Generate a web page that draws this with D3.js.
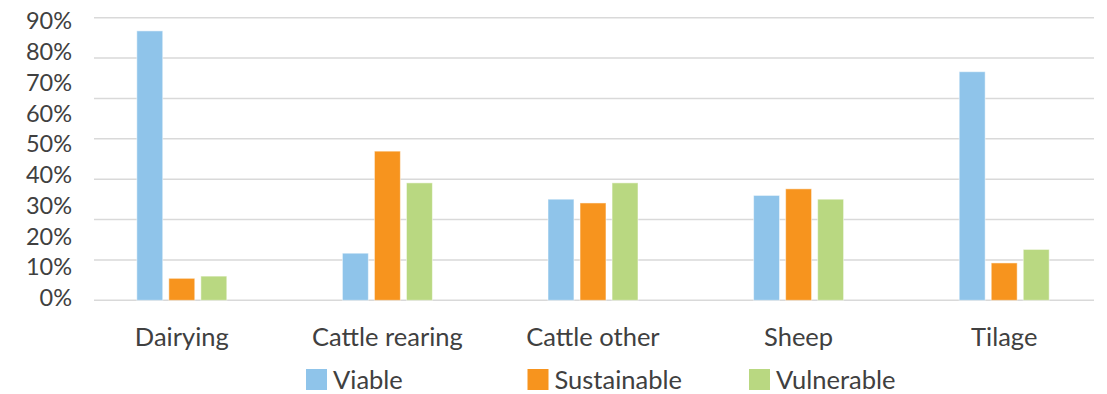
<!DOCTYPE html>
<html>
<head>
<meta charset="utf-8">
<script src="https://cdn.jsdelivr.net/npm/d3@7"></script>
<style>
  html, body { margin: 0; padding: 0; background: #fff; }
  svg { display: block; }
  text { font-family: Lato, "Open Sans", sans-serif; fill: #404040; }
</style>
</head>
<body>
<svg id="chart" width="1107" height="394"></svg>
<script>
// ---- data ----
const categories = ["Dairying", "Cattle rearing", "Cattle other", "Sheep", "Tilage"];
const seriesNames = ["Viable", "Sustainable", "Vulnerable"];
const viable      = [0.858, 0.150, 0.322, 0.334, 0.728];
const sustainable = [0.070, 0.475, 0.310, 0.355, 0.119];
const vulnerable  = [0.077, 0.374, 0.374, 0.322, 0.162];
const yTickLabels = ["0%", "10%", "20%", "30%", "40%", "50%", "60%", "70%", "80%", "90%"];
const gridCount = 8;

const colors = { Viable: "#8fc4ea", Sustainable: "#f7941e", Vulnerable: "#b9d881" };
const seriesValues = { Viable: viable, Sustainable: sustainable, Vulnerable: vulnerable };

const svg = d3.select("#chart");

// scales
const y = d3.scaleLinear().domain([0, 0.9]).range([300.3, 17.7]);
const yLabel = d3.scaleLinear().domain([0, 0.9]).range([306, 29.3]);
const x0 = d3.scaleBand().domain(categories).range([79, 1107]).paddingInner(0.5623).paddingOuter(0.28115);
const x1 = d3.scaleBand().domain(seriesNames).range([0, x0.bandwidth()]).paddingInner(0.19).paddingOuter(0);

// gridlines
const gridVals = d3.range(gridCount).map(i => i * 0.9 / (gridCount - 1));
svg.append("g").selectAll("line").data(gridVals).join("line")
  .attr("x1", 94).attr("x2", 1094)
  .attr("y1", d => y(d)).attr("y2", d => y(d))
  .attr("stroke", "#d9d9d9").attr("stroke-width", 1.5);

// y labels
svg.append("g").selectAll("text").data(yTickLabels).join("text")
  .attr("x", 72)
  .attr("y", (d, i) => yLabel(i * 0.1))
  .attr("text-anchor", "end")
  .attr("font-size", 23.5)
  .text(d => d);

// bars
const groups = svg.append("g").selectAll("g").data(categories).join("g")
  .attr("transform", d => `translate(${x0(d)},0)`);
groups.selectAll("rect")
  .data((c, ci) => seriesNames.map(s => ({ s, v: seriesValues[s][ci] })))
  .join("rect")
  .attr("x", d => x1(d.s))
  .attr("width", x1.bandwidth())
  .attr("y", d => y(d.v))
  .attr("height", d => y(0) - y(d.v))
  .attr("fill", d => colors[d.s])
  .attr("stroke", "#ffffff").attr("stroke-opacity", 0.5).attr("stroke-width", 1);

// category labels
svg.append("g").selectAll("text").data(categories).join("text")
  .attr("x", d => x0(d) + x0.bandwidth() / 2)
  .attr("y", 346)
  .attr("text-anchor", "middle")
  .attr("font-size", 25.5)
  .text(d => d);

// legend
const legendX = d3.scalePoint().domain(seriesNames).range([306, 749]);
const leg = svg.append("g").selectAll("g").data(seriesNames).join("g")
  .attr("transform", d => `translate(${legendX(d)},369)`);
leg.append("rect").attr("width", 21).attr("height", 21).attr("fill", d => colors[d]);
leg.append("text").attr("x", 27).attr("y", 19.5).attr("font-size", 25.5).text(d => d);
</script>
</body>
</html>
